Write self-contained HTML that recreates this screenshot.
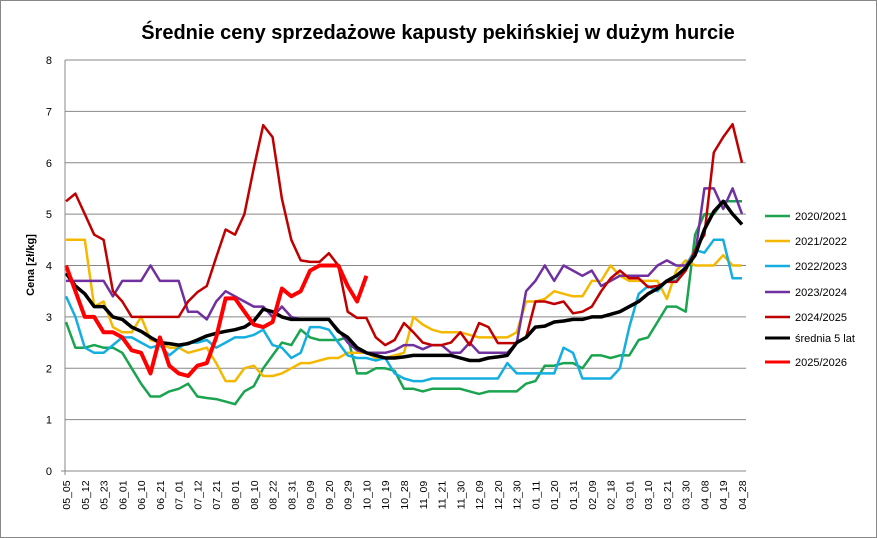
<!DOCTYPE html>
<html><head><meta charset="utf-8"><style>
html,body{margin:0;padding:0;background:#fff}
svg{display:block;font-family:"Liberation Sans",sans-serif}
</style></head><body>
<svg id="chart" width="877" height="538" viewBox="0 0 877 538" xmlns="http://www.w3.org/2000/svg">
<rect x="0.5" y="0.5" width="876" height="537" fill="#fff" stroke="#888"/>
<text x="438" y="39" text-anchor="middle" font-size="20" font-weight="bold" fill="#000">Średnie ceny sprzedażowe kapusty pekińskiej w dużym hurcie</text>
<text transform="translate(34,265) rotate(-90)" text-anchor="middle" font-size="11" font-weight="bold">Cena [zł/kg]</text>
<g id="grid"></g><g id="series"></g><g id="axes"></g><g id="legend"></g>
</svg>
<script>
const xLabels=["05_05","05_12","05_23","06_01","06_10","06_21","07_01","07_12","07_21","08_01","08_10","08_22","08_31","09_09","09_20","09_29","10_10","10_19","10_28","11_09","11_21","11_30","12_09","12_20","12_30","01_11","01_20","01_31","02_09","02_18","03_01","03_10","03_21","03_30","04_08","04_19","04_28"];
const yTicks=[0,1,2,3,4,5,6,7,8];
const seriesNames=["2020/2021","2021/2022","2022/2023","2023/2024","2024/2025","średnia 5 lat","2025/2026"];
const s2020=[2.9,2.4,2.4,2.45,2.4,2.4,2.3,2.0,1.7,1.45,1.45,1.55,1.6,1.7,1.45,1.42,1.4,1.35,1.3,1.55,1.65,2.0,2.25,2.5,2.45,2.75,2.6,2.55,2.55,2.55,2.6,1.9,1.9,2.0,2.0,1.95,1.6,1.6,1.55,1.6,1.6,1.6,1.6,1.55,1.5,1.55,1.55,1.55,1.55,1.7,1.75,2.05,2.05,2.1,2.1,2.0,2.25,2.25,2.2,2.25,2.25,2.55,2.6,2.9,3.2,3.2,3.1,4.6,5.0,5.0,5.25,5.25,5.25];
const s2021=[4.5,4.5,4.5,3.2,3.3,2.8,2.7,2.7,3.0,2.55,2.5,2.4,2.4,2.3,2.35,2.4,2.1,1.75,1.75,2.0,2.05,1.85,1.85,1.9,2.0,2.1,2.1,2.15,2.2,2.2,2.3,2.3,2.3,2.2,2.2,2.25,2.3,3.0,2.85,2.75,2.7,2.7,2.7,2.65,2.6,2.6,2.6,2.6,2.7,3.3,3.3,3.35,3.5,3.45,3.4,3.4,3.7,3.7,4.0,3.8,3.7,3.7,3.7,3.7,3.35,3.9,4.1,4.0,4.0,4.0,4.2,4.0,4.0];
const s2022=[3.4,3.0,2.4,2.3,2.3,2.45,2.6,2.6,2.5,2.4,2.45,2.25,2.4,2.5,2.5,2.55,2.4,2.5,2.6,2.6,2.65,2.75,2.45,2.4,2.2,2.3,2.8,2.8,2.75,2.5,2.25,2.2,2.2,2.15,2.2,1.9,1.8,1.75,1.75,1.8,1.8,1.8,1.8,1.8,1.8,1.8,1.8,2.1,1.9,1.9,1.9,1.9,1.9,2.4,2.3,1.8,1.8,1.8,1.8,2.0,2.8,3.45,3.6,3.5,3.7,3.7,4.0,4.3,4.25,4.5,4.5,3.75,3.75];
const s2023=[3.7,3.7,3.7,3.7,3.7,3.4,3.7,3.7,3.7,4.0,3.7,3.7,3.7,3.1,3.1,2.95,3.3,3.5,3.4,3.3,3.2,3.2,3.0,3.2,3.0,2.95,2.95,2.95,2.95,2.75,2.5,2.35,2.3,2.3,2.3,2.35,2.45,2.45,2.37,2.45,2.45,2.3,2.3,2.5,2.3,2.3,2.3,2.3,2.49,3.5,3.7,4.0,3.7,4.0,3.9,3.8,3.9,3.6,3.7,3.8,3.8,3.8,3.8,4.0,4.1,4.0,4.0,4.2,5.5,5.5,5.1,5.5,5.0];
const s2024=[5.25,5.4,5.0,4.6,4.5,3.5,3.3,3.0,3.0,3.0,3.0,3.0,3.0,3.3,3.48,3.6,4.16,4.7,4.6,5.0,5.9,6.73,6.5,5.3,4.5,4.1,4.07,4.07,4.24,4.0,3.1,2.98,2.98,2.6,2.45,2.55,2.88,2.7,2.5,2.45,2.45,2.5,2.7,2.45,2.88,2.8,2.49,2.49,2.49,2.6,3.3,3.3,3.25,3.3,3.07,3.1,3.2,3.5,3.75,3.9,3.75,3.75,3.58,3.6,3.68,3.68,3.9,4.3,4.6,6.2,6.5,6.75,6.0];
const sAvg=[3.85,3.6,3.45,3.2,3.2,3.0,2.95,2.8,2.72,2.6,2.5,2.48,2.45,2.48,2.55,2.63,2.68,2.72,2.75,2.8,2.92,3.15,3.1,3.0,2.95,2.95,2.95,2.95,2.95,2.72,2.6,2.4,2.3,2.25,2.2,2.2,2.22,2.25,2.25,2.25,2.25,2.25,2.2,2.15,2.15,2.2,2.22,2.25,2.5,2.6,2.8,2.82,2.9,2.92,2.95,2.95,3.0,3.0,3.05,3.1,3.2,3.3,3.45,3.55,3.7,3.8,3.95,4.2,4.7,5.05,5.25,5.0,4.8];
const s2025=[4.0,3.5,3.0,3.0,2.7,2.7,2.6,2.35,2.3,1.9,2.6,2.05,1.9,1.85,2.05,2.1,2.6,3.36,3.36,3.1,2.85,2.8,2.9,3.55,3.4,3.5,3.9,4.0,4.0,4.0,3.6,3.3,3.8];
const seriesData=[s2020,s2021,s2022,s2023,s2024,sAvg,s2025];
const colors=["#1aa44f","#f5b800","#14aee0","#7030a0","#c00000","#000000","#ff0000"];
const widths=[2.5,2.5,2.5,2.5,2.5,3.5,4];
const NS="http://www.w3.org/2000/svg";
const X0=66,X1=742,Y0=471,YTOP=60,NPTS=73;
function xScale(i){return X0+i*(X1-X0)/(NPTS-1);}
function xLab(i){return X0+i*(X1-X0)/(xLabels.length-1);}
function yScale(v){return Y0-v*(Y0-YTOP)/8;}
function mk(tag,attrs,parent){const e=document.createElementNS(NS,tag);for(const k in attrs)e.setAttribute(k,attrs[k]);parent.appendChild(e);return e;}
const grid=document.getElementById('grid'),axes=document.getElementById('axes'),ser=document.getElementById('series'),leg=document.getElementById('legend');
yTicks.forEach(t=>{
  const y=yScale(t);
  if(t>0){const g=mk('line',{x1:65,x2:746,y1:y,y2:y,stroke:'#888','stroke-width':1},grid);
  
  }
  const l=mk('text',{x:52,y:y+4,'text-anchor':'end','font-size':11},axes);l.textContent=t;
  
  
});
const ya=mk('line',{x1:65,x2:65,y1:YTOP,y2:Y0+4,stroke:'#888','stroke-width':1},axes);


const xa=mk('line',{x1:61,x2:746,y1:Y0,y2:Y0,stroke:'#888','stroke-width':1},axes);


xLabels.forEach((lb,i)=>{
  const x=xLab(i);
  const t=mk('text',{transform:`translate(${x+4},${495}) rotate(-90)`,'text-anchor':'middle','font-size':10.5},axes);t.textContent=lb;
  
  
});
seriesData.forEach((d,k)=>{
  const pts=d.map((v,i)=>xScale(i).toFixed(1)+','+yScale(v).toFixed(1)).join(' ');
  const p=mk('polyline',{points:pts,fill:'none',stroke:colors[k],'stroke-width':widths[k],'stroke-linejoin':'round'},ser);
  
  
});
const legY=[216,241,266,292,317,338,362];
seriesNames.forEach((n,k)=>{
  const y=legY[k];
  const l=mk('line',{x1:765,x2:790,y1:y,y2:y,stroke:colors[k],'stroke-width':widths[k]>3?3:2.5},leg);
  
  
  const t=mk('text',{x:795,y:y+4,'font-size':11},leg);t.textContent=n;
  
  
});
</script>
</body></html>
